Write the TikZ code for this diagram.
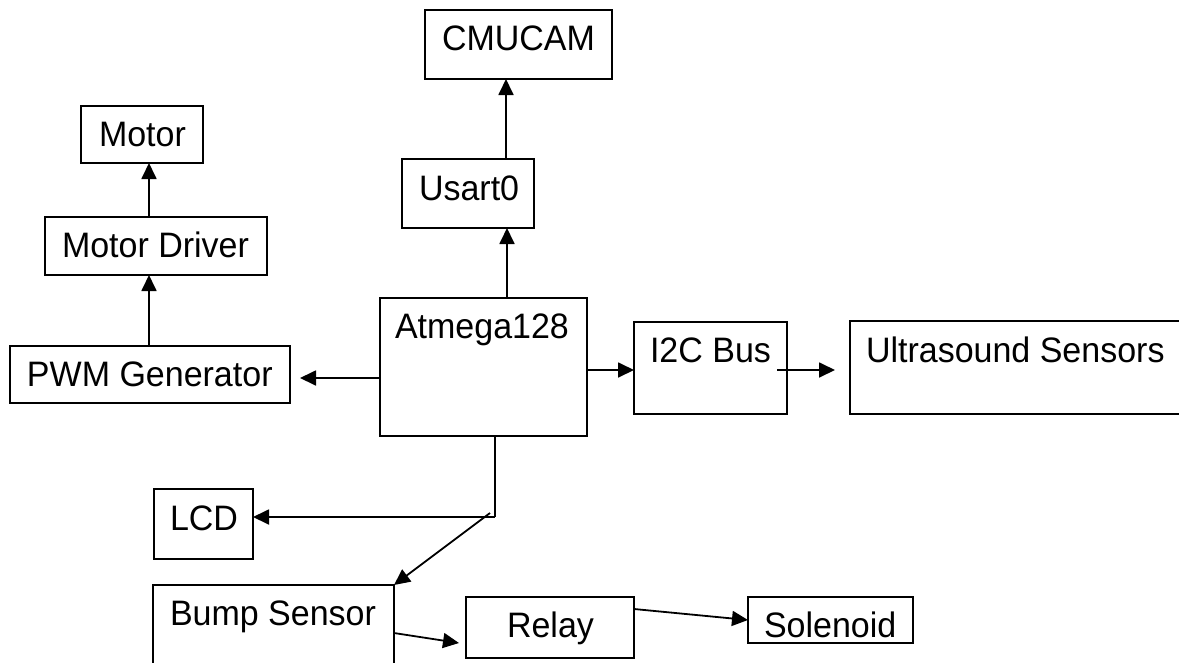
\documentclass[tikz,border=0pt]{standalone}
\usepackage{fontspec}
\setmainfont{Liberation Sans}
\usetikzlibrary{arrows.meta,calc}
\begin{document}
\begin{tikzpicture}[x=1pt,y=-1pt,
  box/.style={draw=black,line width=1.8pt,fill=none,inner sep=0pt,outer sep=0pt,anchor=north west},
  lbl/.style={inner sep=0pt,outer sep=0pt,anchor=base west,font=\fontsize{34}{40}\selectfont,yscale=1.04},
  arr/.style={line width=1.8pt,-{Triangle[length=16pt,width=15pt]}},
  ln/.style={line width=1.8pt}]
\path[use as bounding box] (0,0) rectangle (1179,662);
\clip (0,0) rectangle (1179,662);
% boxes
\node[box,minimum width=187pt,minimum height=69pt] (cmu) at (425,10) {};
\node[box,minimum width=122pt,minimum height=57pt] (motor) at (81,106) {};
\node[box,minimum width=222pt,minimum height=58pt] (mdrv) at (45,217) {};
\node[box,minimum width=132pt,minimum height=69pt] (usart) at (402,159) {};
\node[box,minimum width=207pt,minimum height=138pt] (atm) at (380,298) {};
\node[box,minimum width=280pt,minimum height=57pt] (pwm) at (10,346) {};
\node[box,minimum width=153pt,minimum height=92pt] (i2c) at (634,322) {};
\node[box,minimum width=350pt,minimum height=93pt] (ultra) at (850,321) {};
\node[box,minimum width=99pt,minimum height=70pt] (lcd) at (154,489) {};
\node[box,minimum width=241pt,minimum height=120pt] (bump) at (153,585) {};
\node[box,minimum width=168pt,minimum height=61pt] (relay) at (466,597) {};
\node[box,minimum width=165pt,minimum height=46pt] (sol) at (748,597) {};
% labels
\node[lbl] (tcmu) at (442,50) {CMUCAM};
\node[lbl] (tmotor) at (99,146) {Motor};
\node[lbl] (tmdrv) at (62,257) {Motor Driver};
\node[lbl] (tusart) at (419,200) {Usart0};
\node[lbl] (tatm) at (395,338) {Atmega128};
\node[lbl] (tpwm) at (27,386) {PWM Generator};
\node[lbl] (ti2c) at (650,362) {I2C Bus};
\node[lbl] (tultra) at (866,362) {Ultrasound Sensors};
\node[lbl] (tlcd) at (170,530) {LCD};
\node[lbl] (tbump) at (170,625) {Bump Sensor};
\node[lbl] (trelay) at (507,637) {Relay};
\node[lbl] (tsol) at (764,637) {Solenoid};
% connectors
\coordinate (u1) at ($(usart.north west)+(104,0)$);
\draw[arr] (u1) -- (u1 |- cmu.south);
\coordinate (a1) at ($(atm.north west)+(127,0)$);
\draw[arr] (a1) -- (a1 |- usart.south);
\coordinate (m1) at ($(mdrv.north west)+(104,0)$);
\draw[arr] (m1) -- (m1 |- motor.south);
\coordinate (p1) at ($(pwm.north west)+(139,0)$);
\draw[arr] (p1) -- (p1 |- mdrv.south);
\coordinate (a2) at ($(atm.north west)+(0,80)$);
\coordinate (p2) at ($(pwm.north east)+(10,32)$);
\draw[arr] (a2) -- (p2);
\coordinate (a3) at ($(atm.north east)+(0,72)$);
\draw[arr] (a3) -- (a3 -| i2c.west);
\coordinate (i1) at ($(i2c.north east)+(-10,48)$);
\coordinate (i2) at ($(ultra.north west)+(-15,49)$);
\draw[arr] (i1) -- (i2);
\coordinate (a4) at ($(atm.south west)+(115,0)$);
\coordinate (k1) at ($(a4)+(0,81)$);
\draw[ln] (a4) -- (k1);
\draw[arr] (k1) -- (k1 -| lcd.east);
\coordinate (k2) at ($(a4)+(-5,77)$);
\draw[arr] (k2) -- (bump.north east);
\coordinate (b1) at ($(bump.north east)+(0,48)$);
\coordinate (r0) at ($(relay.north west)+(-7,46)$);
\draw[arr] (b1) -- (r0);
\coordinate (r1) at ($(relay.north east)+(0,12)$);
\coordinate (s1) at ($(sol.north west)+(0,23)$);
\draw[arr] (r1) -- (s1);
\end{tikzpicture}
\end{document}
